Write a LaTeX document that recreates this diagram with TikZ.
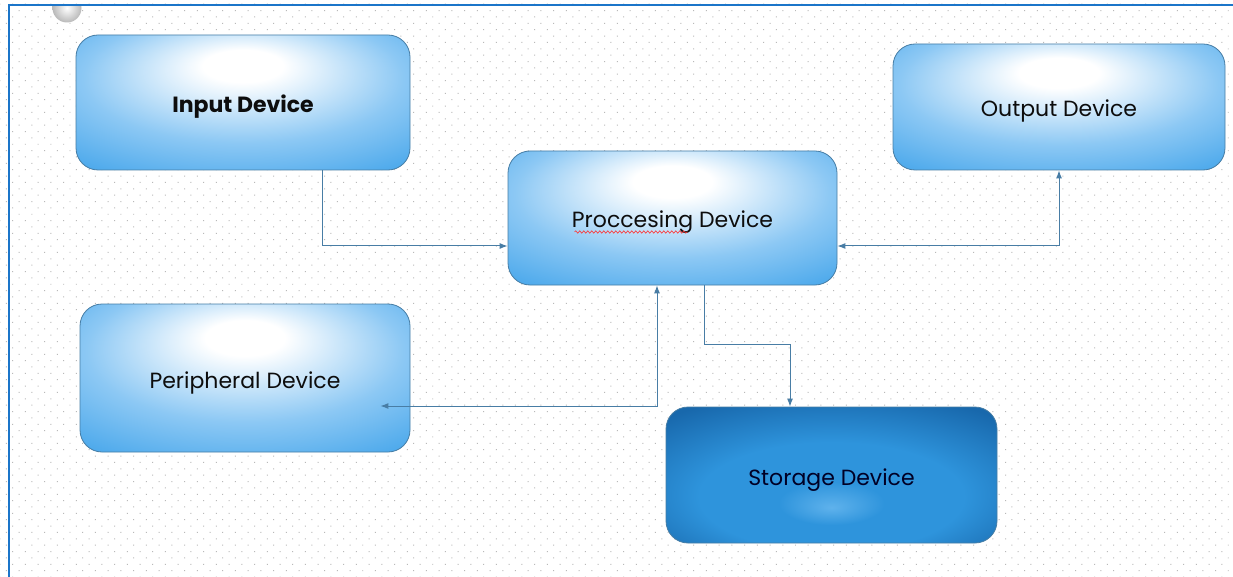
\documentclass[tikz,border=0pt]{standalone}
\usepackage{fontspec}
\setmainfont{Poppins}
\usetikzlibrary{patterns.meta,arrows.meta,decorations.pathmorphing}
\definecolor{boxblue}{RGB}{58,160,233}
\definecolor{boxmid}{RGB}{140,200,244}
\definecolor{boxedge}{RGB}{70,125,165}
\definecolor{stdark}{RGB}{24,104,172}
\definecolor{stmid}{RGB}{46,148,220}
\definecolor{stlight}{RGB}{95,178,236}
\definecolor{conn}{RGB}{72,125,165}
\definecolor{frame}{RGB}{27,117,201}
\pgfdeclareradialshading{boxshade}{\pgfpoint{0bp}{15bp}}{color(0bp)=(white); color(6bp)=(white); color(24bp)=(boxmid); color(42bp)=(boxblue); color(60bp)=(boxblue)}
\pgfdeclareradialshading{stshade}{\pgfpoint{0bp}{-12bp}}{color(0bp)=(stlight); color(8bp)=(stmid); color(20bp)=(stmid); color(36bp)=(stdark); color(60bp)=(stdark)}
\begin{document}
\begin{tikzpicture}[x=1pt,y=-1pt,
  dev/.style={draw=boxedge, line width=0.8pt, rounded corners=22pt, shading=boxshade, font=\fontsize{22}{24}\selectfont, text=black!95, inner sep=0pt, text height=20pt, text depth=0pt},
  stor/.style={dev, shading=stshade, text=black!85!blue},
  link/.style={draw=conn, line width=1pt, -{Latex[length=8pt,width=6pt]}},
  dlink/.style={link, {Latex[length=8pt,width=6pt]}-{Latex[length=8pt,width=6pt]}}]
\useasboundingbox (0,0) rectangle (1233,577);
\fill[white] (0,0) rectangle (1233,577);
\fill[pattern={Dots[radius=0.7pt, distance=9pt, angle=45]}, pattern color=gray!55] (0,0) rectangle (1233,577);
\begin{scope}
\clip (10,5) rectangle (200,40);
\shade[inner color=white, outer color=gray!55] (67,8) circle (14.5);
\end{scope}
\draw[frame, line width=2.5pt] (9,577) -- (9,5) -- (1233,5);
\node[dev, minimum width=334pt, minimum height=135pt] (in) at (243,102.5) {\textbf{Input Device}};
\node[dev, minimum width=329pt, minimum height=134pt] (proc) at (672.5,218) {Proccesing Device};
\node[dev, minimum width=332pt, minimum height=126pt] (out) at (1059,107) {Output Device};
\node[dev, minimum width=330pt, minimum height=148pt] (per) at (245,378) {Peripheral Device};
\node[stor, minimum width=331pt, minimum height=136pt] (st) at (831.5,475) {Storage Device};
\draw[red!80, line width=0.6pt, decorate, decoration={snake, amplitude=1.2pt, segment length=4pt}] ([shift={(-98,14)}]proc.center) -- ([shift={(15,14)}]proc.center);
\draw[link] ([xshift=79pt]in.south) |- ([yshift=-28pt]proc.west);
\draw[dlink] ([yshift=-28pt]proc.east) -| (out.south);
\draw[dlink] ([xshift=-15.5pt]proc.south) |- ([xshift=-30pt,yshift=-28pt]per.east);
\draw[link] ([xshift=31.5pt]proc.south) -- ++(0,59) -| ([xshift=-41.5pt]st.north);
\end{tikzpicture}
\end{document}
